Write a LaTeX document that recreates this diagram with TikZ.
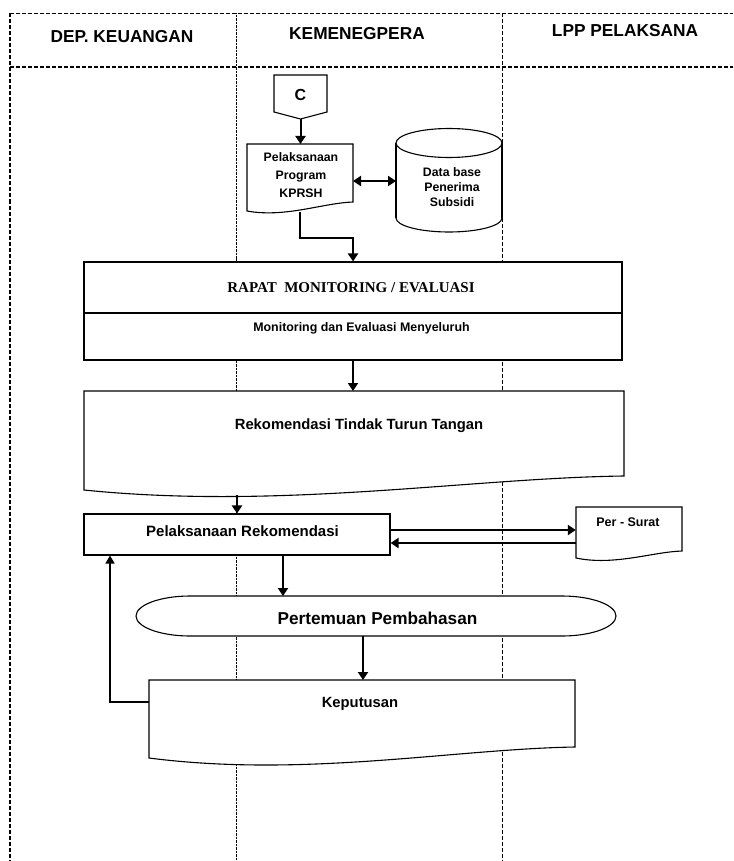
\documentclass[tikz,border=0pt]{standalone}
\usepackage{fontspec}
\setmainfont{Liberation Sans}
\newfontfamily\tnrfont{Liberation Serif}
\usetikzlibrary{arrows.meta}
\newcommand{\fsz}[2]{\fontsize{#1}{#2}\selectfont}
\begin{document}
\begin{tikzpicture}[x=1pt,y=-1pt,
  lane/.style={line width=1.4pt, dash pattern=on 4pt off 2pt},
  lanedot/.style={line width=1.2pt, dash pattern=on 1pt off 0.4pt},
  shp/.style={draw, line width=1.1pt, fill=white},
  flow/.style={line width=2pt, -{Triangle[length=8pt,width=10pt]}},
  back/.style={line width=1.6pt, -{Triangle[length=8pt,width=9pt]}},
  both/.style={line width=2pt, {Triangle[length=8pt,width=10pt]}-{Triangle[length=8pt,width=10pt]}},
  lbl/.style={inner sep=0pt, align=center, font=\bfseries},
  hdr/.style={lbl, font=\bfseries\fsz{17.3}{20}},
  boxnode/.style={inner sep=0pt, draw=none},
]
\useasboundingbox (0,0) rectangle (733,861);
\fill[white] (0,0) rectangle (733,861);

% swimlanes
\draw[lane] (10,13.5) -- (733,13.5);
\draw[lane] (10,67) -- (733,67);
\draw[lane] (10,13.5) -- (10,861);
\draw[lanedot] (236.5,13.5) -- (236.5,861);
\draw[lane] (502.5,13.5) -- (502.5,861);

\node[hdr] (h1) at (122,36.5) {DEP. KEUANGAN};
\node[hdr] (h2) at (357,33.5) {KEMENEGPERA};
\node[hdr] (h3) at (625,31) {LPP PELAKSANA};

% off-page connector C
\draw[shp] (274,75) -- (327,75) -- (327,112) -- (300.5,119) -- (274,112) -- cycle;
\node[lbl, font=\bfseries\fsz{16}{18}] (c) at (300.5,95) {C};
\coordinate (cbot) at (300.5,119);

% document: Pelaksanaan Program KPRSH
\draw[shp] (247,144) -- (353,144) -- (353,202) .. controls (323,203) and (285,218) .. (247,211) -- cycle;
\node[lbl, font=\bfseries\fsz{12.3}{18}] (prog) at (301,174.7) {Pelaksanaan\\Program\\KPRSH};
\coordinate (progtop) at (300.5,144);
\coordinate (progright) at (353,181);
\coordinate (progbot) at (300,212);
\coordinate (bend) at (300,238);

% database cylinder
\fill[white] (396,143) rectangle (502,218);
\draw[shp] (449,218) ellipse [x radius=53, y radius=14];
\fill[white] (396.6,143) rectangle (501.4,218);
\draw[line width=1.1pt] (396,143) -- (396,218) (502,143) -- (502,218);
\draw[shp] (449,143) ellipse [x radius=53, y radius=14.5];
\node[lbl, font=\bfseries\fsz{12.3}{15}] (db) at (452,187.3) {Data base\\Penerima\\Subsidi};
\coordinate (dbleft) at (396,181);

% RAPAT box
\node[shp, rectangle, minimum width=538pt, minimum height=98pt, inner sep=0pt] (rapat) at (353,311) {};
\draw[line width=1.1pt] (84,313) -- (622,313);
\node[lbl, font=\tnrfont\bfseries\fsz{15}{17}] (rapattxt) at (351,288) {RAPAT\ \ MONITORING / EVALUASI};
\node[lbl, font=\bfseries\fsz{12.4}{15}] (montxt) at (361.5,328) {Monitoring dan Evaluasi Menyeluruh};

% Rekomendasi document
\draw[shp] (84,391) -- (624,391) -- (624,476) .. controls (470,478) and (280,510) .. (84,490) -- cycle;
\node[lbl, font=\bfseries\fsz{14.8}{17}] (rek) at (359,426) {Rekomendasi Tindak Turun Tangan};
\coordinate (rektop) at (353,391);
\coordinate (rekbot) at (237,495);

% Pelaksanaan Rekomendasi box
\node[shp, rectangle, minimum width=306pt, minimum height=41pt, inner sep=0pt] (pelrek) at (237,534.5) {};
\node[lbl, font=\bfseries\fsz{15}{17}] (pelrektxt) at (242.5,531) {Pelaksanaan Rekomendasi};

% Per - Surat document
\draw[shp] (576,507) -- (682,507) -- (682,551) .. controls (652,552) and (614,566) .. (576,558) -- cycle;
\node[boxnode, minimum width=106pt, minimum height=44pt] (psurat) at (629,529) {};
\node[lbl, font=\bfseries\fsz{12.5}{15}] (pstxt) at (628,522) {Per - Surat};

% Pertemuan Pembahasan terminator
\draw[shp] (190,596) -- (562,596) .. controls (591.8,596) and (616,605) .. (616,616)
  .. controls (616,627) and (591.8,636) .. (562,636) -- (190,636)
  .. controls (160.2,636) and (136,627) .. (136,616)
  .. controls (136,605) and (160.2,596) .. (190,596) -- cycle;
\node[lbl, font=\bfseries\fsz{17.2}{20}] (temu) at (377.5,618) {Pertemuan Pembahasan};
\coordinate (temutop) at (283,596);
\coordinate (temubot) at (363,636);

% Keputusan document
\draw[shp] (149,680) -- (575,680) -- (575,747) .. controls (454,749) and (304,778) .. (149,758) -- cycle;
\node[lbl, font=\bfseries\fsz{14.8}{17}] (kep) at (360,704) {Keputusan};
\coordinate (keptop) at (363,680);
\coordinate (kepleft) at (149,702);
\coordinate (fbcorner) at (110,702);

% connectors
\draw[flow] (cbot) -- (progtop);
\draw[both] (progright) -- (dbleft);
\draw[flow] (progbot) -- (bend) -| (rapat.north);
\draw[flow] (rapat.south) -- (rektop);
\draw[flow] (rekbot) -- (pelrek.north);
\draw[flow] ([yshift=4.5pt]pelrek.east) -- ([yshift=4.5pt]pelrek.east -| psurat.west);
\draw[flow] ([yshift=-8.5pt]pelrek.east -| psurat.west) -- ([yshift=-8.5pt]pelrek.east);
\draw[flow] (pelrek.south -| temutop) -- (temutop);
\draw[flow] (temubot) -- (keptop);
\draw[back] (kepleft) -- (fbcorner) -- (fbcorner |- pelrek.south);
\end{tikzpicture}
\end{document}
